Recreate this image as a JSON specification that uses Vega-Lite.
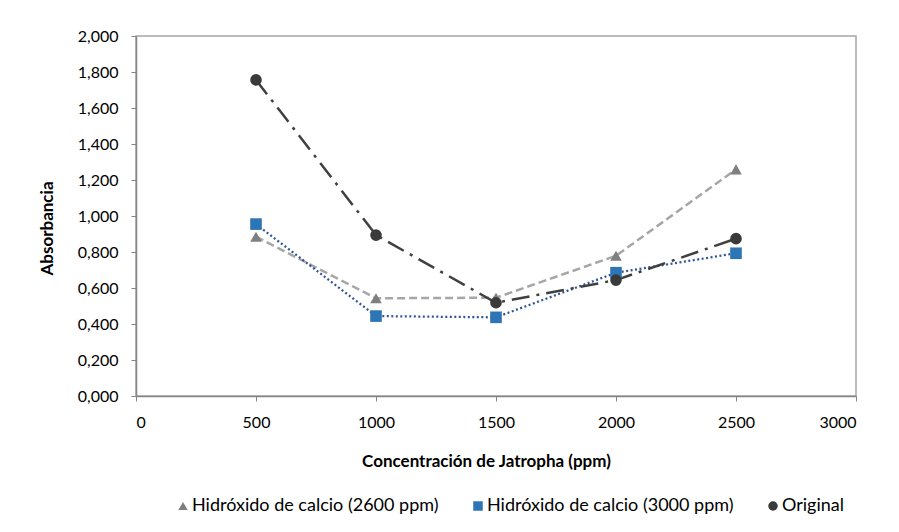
{
  "$schema": "https://vega.github.io/schema/vega-lite/v6.json",
  "width": 720,
  "height": 360,
  "autosize": {"type": "none"},
  "padding": {"left": 136, "top": 36, "right": 43, "bottom": 136},
  "background": "white",
  "data": {
    "values": [
      {"serie": "Hidróxido de calcio (2600 ppm)", "ppm": 500, "abs": 0.885},
      {"serie": "Hidróxido de calcio (2600 ppm)", "ppm": 1000, "abs": 0.543},
      {"serie": "Hidróxido de calcio (2600 ppm)", "ppm": 1500, "abs": 0.546},
      {"serie": "Hidróxido de calcio (2600 ppm)", "ppm": 2000, "abs": 0.779},
      {"serie": "Hidróxido de calcio (2600 ppm)", "ppm": 2500, "abs": 1.259},
      {"serie": "Hidróxido de calcio (3000 ppm)", "ppm": 500, "abs": 0.955},
      {"serie": "Hidróxido de calcio (3000 ppm)", "ppm": 1000, "abs": 0.444},
      {"serie": "Hidróxido de calcio (3000 ppm)", "ppm": 1500, "abs": 0.437},
      {"serie": "Hidróxido de calcio (3000 ppm)", "ppm": 2000, "abs": 0.685},
      {"serie": "Hidróxido de calcio (3000 ppm)", "ppm": 2500, "abs": 0.793},
      {"serie": "Original", "ppm": 500, "abs": 1.756},
      {"serie": "Original", "ppm": 1000, "abs": 0.894},
      {"serie": "Original", "ppm": 1500, "abs": 0.518},
      {"serie": "Original", "ppm": 2000, "abs": 0.644},
      {"serie": "Original", "ppm": 2500, "abs": 0.874}
    ]
  },
  "encoding": {
    "x": {
      "field": "ppm", "type": "quantitative",
      "scale": {"domain": [0, 3000], "nice": false},
      "axis": {
        "values": [0, 500, 1000, 1500, 2000, 2500, 3000],
        "format": "d",
        "grid": false,
        "title": "Concentración  de Jatropha (ppm)",
        "titlePadding": 23,
        "titleX": 350,
        "labelPadding": 13
      }
    },
    "y": {
      "field": "abs", "type": "quantitative",
      "scale": {"domain": [0, 2], "nice": false},
      "axis": {
        "values": [0, 0.2, 0.4, 0.6, 0.8, 1, 1.2, 1.4, 1.6, 1.8, 2],
        "format": ".3f",
        "grid": false,
        "title": "Absorbancia",
        "titlePadding": 21,
        "titleY": 192,
        "labelPadding": 13
      }
    }
  },
  "layer": [
    {
      "transform": [{"filter": "datum.serie === 'Hidróxido de calcio (2600 ppm)'"}],
      "mark": {"type": "line", "strokeWidth": 2.5, "color": "#a6a6a6", "strokeDash": [8, 4]},
      "encoding": {}
    },
    {
      "transform": [{"filter": "datum.serie === 'Hidróxido de calcio (3000 ppm)'"}],
      "mark": {"type": "line", "strokeWidth": 2.25, "color": "#2f5597", "strokeDash": [2, 2.5]},
      "encoding": {}
    },
    {
      "transform": [{"filter": "datum.serie === 'Original'"}],
      "mark": {"type": "line", "strokeWidth": 2.5, "color": "#404040", "strokeDash": [18, 7, 3, 7]},
      "encoding": {}
    },
    {
      "mark": {"type": "point", "filled": true, "opacity": 1, "size": 135, "strokeWidth": 0},
      "encoding": {
        "fill": {
          "field": "serie", "type": "nominal",
          "scale": {
            "domain": ["Hidróxido de calcio (2600 ppm)", "Hidróxido de calcio (3000 ppm)", "Original"],
            "range": ["#7f7f7f", "#2e75b6", "#3a3a3a"]
          },
          "legend": {
            "title": null,
            "orient": "none",
            "legendX": 38,
            "legendY": 461,
            "direction": "horizontal",
            "symbolSize": 90,
            "labelFontSize": 18,
            "labelFont": "Lato",
            "labelColor": "#000000",
            "labelLimit": 500,
            "columnPadding": 30,
            "labelOffset": 0,
            "symbolStrokeWidth": 0
          }
        },
        "shape": {
          "field": "serie", "type": "nominal",
          "scale": {
            "domain": ["Hidróxido de calcio (2600 ppm)", "Hidróxido de calcio (3000 ppm)", "Original"],
            "range": ["triangle-up", "square", "circle"]
          },
          "legend": {
            "title": null,
            "orient": "none",
            "legendX": 38,
            "legendY": 461,
            "direction": "horizontal",
            "symbolSize": 90,
            "labelFontSize": 18,
            "labelFont": "Lato",
            "labelColor": "#000000",
            "labelLimit": 500,
            "columnPadding": 30,
            "labelOffset": 0,
            "symbolStrokeWidth": 0
          }
        }
      }
    }
  ],
  "config": {
    "locale": {
      "number": {"decimal": ",", "thousands": ".", "grouping": [3], "currency": ["", ""]}
    },
    "view": {"stroke": "#a6a6a6", "strokeWidth": 1.5},
    "axis": {
      "domainColor": "#868686",
      "domainWidth": 1.5,
      "tickColor": "#868686",
      "tickSize": 5,
      "labelFont": "Lato",
      "labelFontSize": 16,
      "labelColor": "#000000",
      "titleFont": "Lato",
      "titleFontSize": 17,
      "titleFontWeight": "bold",
      "titleColor": "#000000"
    }
  }
}
